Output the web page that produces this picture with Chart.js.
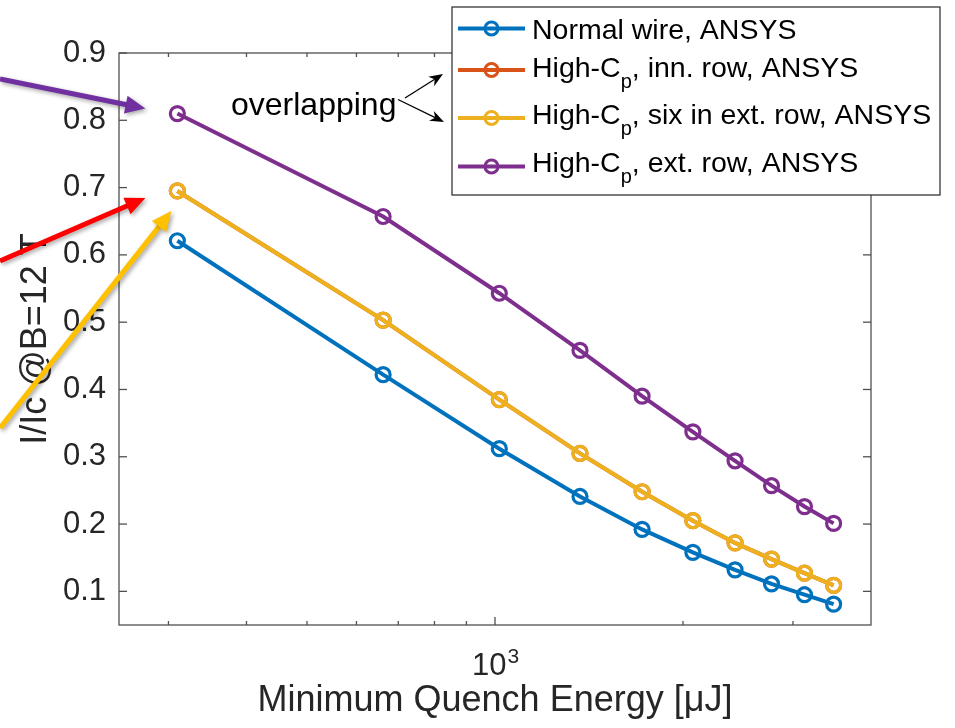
<!DOCTYPE html>
<html>
<head>
<meta charset="utf-8">
<script src="https://cdn.jsdelivr.net/npm/chart.js@4.4.1/dist/chart.umd.min.js"></script>
<style>
  html, body { margin: 0; padding: 0; background: #fff; }
</style>
</head>
<body>
<canvas id="mqeChart" width="955" height="728"></canvas>
<script>
// MQE values [uJ]
var mqeEnergy = [310, 662, 1016, 1368, 1720, 2074, 2423, 2772, 3130, 3485];

// I/Ic @ B=12 T for each case
var normalWire  = [0.621, 0.422, 0.312, 0.241, 0.192, 0.158, 0.132, 0.111, 0.095, 0.081];
var highCpInner = [0.695, 0.503, 0.385, 0.305, 0.248, 0.205, 0.172, 0.148, 0.127, 0.109];
var highCpSix   = [0.695, 0.503, 0.385, 0.305, 0.248, 0.205, 0.172, 0.148, 0.127, 0.109];
var highCpExt   = [0.810, 0.657, 0.543, 0.458, 0.390, 0.337, 0.294, 0.257, 0.226, 0.201];

var seriesLabels = ['Normal wire, ANSYS', 'High-C_p, inn. row, ANSYS', 'High-C_p, six in ext. row, ANSYS', 'High-C_p, ext. row, ANSYS'];
var seriesColors = ['#0072BD', '#D95319', '#EDB120', '#7E2F8E'];

var xTickValues = [300, 400, 500, 600, 700, 800, 900, 1000, 2000, 3000];
var xTickLabels = { 1000: ['10', '3'] };   // base, exponent
var yTickValues = [0.1, 0.2, 0.3, 0.4, 0.5, 0.6, 0.7, 0.8, 0.9];

var FONT = '"Liberation Sans", Arial, Helvetica, sans-serif';

function toPoints(ys) {
    return mqeEnergy.map(function(x, i) { return { x: x, y: ys[i] }; });
}

function makeSet(i, ys, order) {
    return {
        label: seriesLabels[i],
        data: toPoints(ys),
        borderColor: seriesColors[i],
        backgroundColor: 'rgba(0,0,0,0)',
        borderWidth: 4,
        pointRadius: 7,
        pointBorderWidth: 3.2,
        pointBackgroundColor: 'rgba(0,0,0,0)',
        pointBorderColor: seriesColors[i],
        tension: 0,
        order: order
    };
}

function line(ctx, x0, y0, x1, y1) {
    ctx.beginPath(); ctx.moveTo(x0, y0); ctx.lineTo(x1, y1); ctx.stroke();
}

// arrow with a filled triangular head
function arrow(ctx, x0, y0, x1, y1, w, headLen, headW, color, notch) {
    var ang = Math.atan2(y1 - y0, x1 - x0);
    var c = Math.cos(ang), s = Math.sin(ang);
    var bx = x1 - c * headLen * (notch ? 0.7 : 0.95), by = y1 - s * headLen * (notch ? 0.7 : 0.95);
    ctx.strokeStyle = color; ctx.fillStyle = color; ctx.lineWidth = w; ctx.lineCap = 'butt';
    line(ctx, x0, y0, bx, by);
    var hx = x1 - c * headLen, hy = y1 - s * headLen;
    ctx.beginPath();
    ctx.moveTo(x1, y1);
    ctx.lineTo(hx - s * headW / 2, hy + c * headW / 2);
    if (notch) ctx.lineTo(x1 - c * headLen * 0.7, y1 - s * headLen * 0.7);
    ctx.lineTo(hx + s * headW / 2, hy - c * headW / 2);
    ctx.closePath();
    ctx.fill();
}

// matlab-like box with inward ticks, plus the 10^3 label with a real superscript
var axesBox = {
    id: 'axesBox',
    afterDatasetsDraw: function(chart) {
        var ctx = chart.ctx, a = chart.chartArea, x = chart.scales.x, y = chart.scales.y;
        ctx.save();
        ctx.strokeStyle = '#505050';
        ctx.lineWidth = 1.3;
        ctx.strokeRect(a.left, a.top, a.right - a.left, a.bottom - a.top);
        x.ticks.forEach(function(t) {
            var px = x.getPixelForValue(t.value);
            var len = t.major ? 8 : 4;
            line(ctx, px, a.bottom, px, a.bottom - len);
            line(ctx, px, a.top, px, a.top + len);
        });
        y.ticks.forEach(function(t) {
            var py = y.getPixelForValue(t.value);
            line(ctx, a.left, py, a.left + 8, py);
            line(ctx, a.right, py, a.right - 8, py);
        });

        ctx.fillStyle = '#262626';
        ctx.textBaseline = 'alphabetic';
        x.ticks.forEach(function(t) {
            var lab = xTickLabels[t.value];
            if (!lab) return;
            ctx.font = '31px ' + FONT;
            var wb = ctx.measureText(lab[0]).width;
            ctx.font = '21px ' + FONT;
            var we = ctx.measureText(lab[1]).width;
            var x0 = x.getPixelForValue(t.value) - (wb + we) / 2;
            ctx.font = '31px ' + FONT;
            ctx.fillText(lab[0], x0, a.bottom + 50);
            ctx.font = '21px ' + FONT;
            ctx.fillText(lab[1], x0 + wb + 1, a.bottom + 38);
        });
        ctx.restore();
    }
};

// legend with subscript text, drawn over the axes like matlab does
var subLegend = {
    id: 'subLegend',
    afterDraw: function(chart) {
        var ctx = chart.ctx;
        var rows = [[38.5, 28.5], [77, 70], [123.5, 118], [172, 166.5]];
        ctx.save();
        ctx.fillStyle = '#fff';
        ctx.fillRect(452, 7, 488, 188);
        ctx.strokeStyle = '#262626';
        ctx.lineWidth = 1.2;
        ctx.strokeRect(452, 7, 488, 188);
        chart.data.datasets.forEach(function(ds, i) {
            var base = rows[i][0], ly = rows[i][1];
            ctx.strokeStyle = ds.borderColor;
            ctx.lineWidth = 4;
            line(ctx, 458, ly, 525, ly);
            ctx.lineWidth = 3;
            ctx.beginPath(); ctx.arc(491.5, ly, 6.5, 0, Math.PI * 2); ctx.stroke();
            var parts = ds.label.split('_');
            var tx = 532;
            ctx.fillStyle = '#000';
            ctx.textBaseline = 'alphabetic';
            ctx.font = '28.5px ' + FONT;
            ctx.fillText(parts[0], tx, base);
            tx += ctx.measureText(parts[0]).width;
            if (parts.length > 1) {
                ctx.font = '20px ' + FONT;
                ctx.fillText(parts[1].charAt(0), tx, base + 11);
                tx += ctx.measureText(parts[1].charAt(0)).width;
                ctx.font = '28.5px ' + FONT;
                ctx.fillText(parts[1].slice(1), tx, base);
            }
        });
        ctx.restore();
    }
};

// slide-style annotation arrows and the "overlapping" note
var notes = {
    id: 'notes',
    afterDraw: function(chart) {
        var ctx = chart.ctx, x = chart.scales.x, y = chart.scales.y;
        var px0 = x.getPixelForValue(mqeEnergy[0]);
        var pExt = y.getPixelForValue(highCpExt[0]);
        var pSix = y.getPixelForValue(highCpSix[0]);
        ctx.save();
        ctx.shadowColor = 'rgba(0,0,0,0.35)';
        ctx.shadowBlur = 4;
        ctx.shadowOffsetX = 2;
        ctx.shadowOffsetY = 2;
        arrow(ctx, 0, 79, px0 - 32, pExt - 5, 5, 20, 18, '#7030A0', false);
        arrow(ctx, 0, 261, px0 - 32, pSix + 7, 5, 20, 18, '#FF0000', false);
        arrow(ctx, 0, 428, px0 - 6, pSix + 20, 5, 20, 18, '#FFC000', false);
        ctx.restore();

        ctx.save();
        ctx.fillStyle = '#000';
        ctx.font = '32px ' + FONT;
        ctx.textBaseline = 'alphabetic';
        ctx.fillText('overlapping', 231, 115);
        arrow(ctx, 405, 98, 443, 74, 1.3, 14, 11, '#000', true);
        arrow(ctx, 398, 99.5, 444, 122, 1.3, 14, 11, '#000', true);
        ctx.restore();
    }
};

new Chart(document.getElementById('mqeChart'), {
    type: 'line',
    data: {
        datasets: [
            makeSet(0, normalWire, 4),
            makeSet(1, highCpInner, 3),
            makeSet(2, highCpSix, 2),
            makeSet(3, highCpExt, 1)
        ]
    },
    options: {
        responsive: false,
        animation: false,
        layout: { padding: { top: 53, right: 84, left: 0, bottom: 0 } },
        plugins: { legend: { display: false }, tooltip: { enabled: false } },
        scales: {
            x: {
                type: 'logarithmic',
                min: 250,
                max: 4000,
                grid: { display: false, drawTicks: false },
                border: { display: false },
                afterBuildTicks: function(s) {
                    s.ticks = xTickValues.map(function(v) { return { value: v, major: v === 1000 }; });
                },
                afterFit: function(s) { s.height = 103; },
                ticks: {
                    autoSkip: false, maxRotation: 0, minRotation: 0, padding: 17,
                    color: '#262626', font: { family: FONT, size: 31 },
                    callback: function() { return ''; }
                },
                title: {
                    display: true, text: 'Minimum Quench Energy [μJ]', color: '#262626',
                    font: { family: FONT, size: 36 }, padding: { top: 0, bottom: 5 }
                }
            },
            y: {
                min: 0.05,
                max: 0.9,
                grid: { display: false, drawTicks: false },
                border: { display: false },
                afterBuildTicks: function(s) {
                    s.ticks = yTickValues.map(function(v) { return { value: v }; });
                },
                afterFit: function(s) { s.width = 119; },
                ticks: {
                    padding: 13, color: '#262626', font: { family: FONT, size: 31 },
                    callback: function(v) { return v.toFixed(1); }
                },
                title: {
                    display: true, text: 'I/Ic @B=12 T', color: '#262626',
                    font: { family: FONT, size: 36 }, padding: { top: 14, bottom: 0 }
                }
            }
        }
    },
    plugins: [axesBox, subLegend, notes]
});
</script>
</body>
</html>
